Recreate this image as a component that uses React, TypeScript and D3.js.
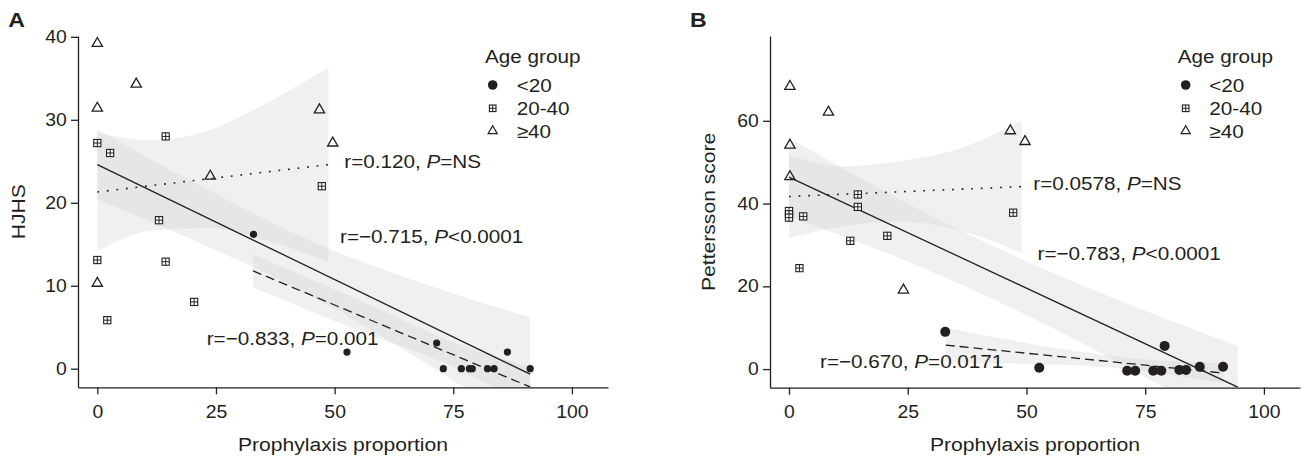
import React, { useEffect, useRef } from 'react';
import * as d3 from 'd3';

const INK = '#231f20';
const FONT = '"Liberation Sans", Arial, Helvetica, sans-serif';
const SX = 1.1; // the glyphs in the figure are a bit wider than Arial

// shared
const xTicks = [0, 25, 50, 75, 100];
const groups = ['<20', '20-40', '\u226540'];

// panel A - HJHS
const aYTicks = [0, 10, 20, 30, 40];
const aUnder20 = [[32.9, 16.2], [52.6, 2.0], [71.5, 3.1], [72.9, 0], [76.7, 0], [78.4, 0], [79.0, 0], [82.2, 0], [83.6, 0], [86.4, 2.0], [91.2, 0]];
const a20to40 = [[0, 27.2], [2.7, 26.0], [14.4, 28.0], [47.3, 22.0], [13.0, 17.9], [0, 13.1], [14.4, 12.9], [20.4, 8.05], [2.1, 5.85]];
const aOver40 = [[0, 39.2], [0, 31.4], [0, 10.3], [8.2, 34.3], [23.8, 23.2], [46.8, 31.2], [49.6, 27.2]];
const aFitAll = [[0, 24.6], [91.2, -0.66]];
const aFitOver40 = [[0, 21.3], [48.7, 24.6]];
const aFitUnder20 = [[32.8, 11.8], [91.2, -2.2]];
// confidence bands: [x, lower, upper]
const aBandAll = [[0, 20.4, 28.8], [20, 15.56, 22.56], [45, 8.8, 15.4], [70, 0.4, 10.0], [91.2, -7.6, 6.2]];
const aBandOver40 = [[0, 14.15, 28.45], [12, 16.7, 27.5], [24, 16.95, 28.85], [36, 15.4, 32.1], [48.7, 12.9, 36.3]];
const aBandUnder20 = [[32.8, 9.8, 13.8], [55, 4.6, 8.3], [75, 0.2, 3.2], [91.2, -4.6, 0.2]];

// panel B - Pettersson score
const bYTicks = [0, 20, 40, 60];
const bUnder20 = [[32.9, 9.0], [52.7, 0.3], [71.2, -0.4], [72.9, -0.4], [76.7, -0.4], [78.4, -0.4], [79.1, 5.6], [82.2, -0.2], [83.6, -0.2], [86.5, 0.55], [91.4, 0.55]];
const b20to40 = [[0, 38.2], [0, 37.4], [0, 36.6], [3.0, 36.9], [14.5, 42.2], [14.5, 39.2], [47.2, 37.8], [12.9, 31.0], [20.7, 32.2], [2.2, 24.4]];
const bOver40 = [[0.2, 68.3], [0.2, 54.1], [0.2, 46.5], [8.3, 62.1], [46.6, 57.6], [49.7, 55.0], [24.1, 19.1]];
const bFitAll = [[0, 46.4], [94.5, -4.35]];
const bFitOver40 = [[0, 41.7], [49, 44.1]];
const bFitUnder20 = [[33.0, 5.8], [91.4, -0.95]];
const bBandAll = [[0, 36.9, 55.9], [25, 25.98, 39.98], [50, 13.05, 26.05], [75, -1.9, 14.1], [94.5, -14.35, 5.65]];
const bBandOver40 = [[0, 31.7, 51.7], [12, 34.6, 49.0], [24, 35.6, 50.4], [36, 33.5, 53.3], [49, 28.1, 60.1]];
const bBandUnder20 = [[33, 1.6, 10.0], [59, 1.0, 4.6], [75, -0.5, 2.3], [91.4, -3.5, 1.5]];

const panels = [
  {
    id: 'A', left: 78, right: 608, top: 36, bottom: 387.3,
    xDomain: [-4.07, 107.6], yDomain: [-2.24, 40.1], yTicks: aYTicks,
    yTitle: 'HJHS', yTitleX: 25, labelX: 8.3,
    dotR: 3.6,
    under20: aUnder20, mid: a20to40, over40: aOver40,
    fitAll: aFitAll, fitOver40: aFitOver40, fitUnder20: aFitUnder20,
    bands: [aBandOver40, aBandAll, aBandUnder20],
    legend: { titleX: 485, symX: 492.7, textX: 516.7 },
    notes: [
      { x: 344.3, y: 168.3, r: '0.120', p: '=NS' },
      { x: 340, y: 242.7, r: '\u22120.715', p: '<0.0001' },
      { x: 206.7, y: 345, r: '\u22120.833', p: '=0.001' },
    ],
  },
  {
    id: 'B', left: 770, right: 1300, top: 36, bottom: 387.7,
    xDomain: [-4.0, 107.6], yDomain: [-4.5, 80.5], yTicks: bYTicks,
    yTitle: 'Pettersson score', yTitleX: 715, labelX: 690,
    dotR: 5,
    under20: bUnder20, mid: b20to40, over40: bOver40,
    fitAll: bFitAll, fitOver40: bFitOver40, fitUnder20: bFitUnder20,
    bands: [bBandOver40, bBandAll, bBandUnder20],
    legend: { titleX: 1177.7, symX: 1185.7, textX: 1209.3 },
    notes: [
      { x: 1033.3, y: 190, r: '0.0578', p: '=NS' },
      { x: 1037.5, y: 259.5, r: '\u22120.783', p: '<0.0001' },
      { x: 820, y: 368.3, r: '\u22120.670', p: '=0.0171' },
    ],
  },
];

const tri = d3.symbol(d3.symbolTriangle, 46)();
const triSmall = d3.symbol(d3.symbolTriangle, 36)();

const Square = ({ cx, cy, s }) => (
  <g transform={`translate(${cx},${cy})`}>
    <rect x={-s / 2} y={-s / 2} width={s} height={s} fill="#fff" stroke={INK} strokeWidth={1.1} />
    <line x1={-s / 2} x2={s / 2} y1={0} y2={0} stroke={INK} strokeWidth={1} />
    <line x1={0} x2={0} y1={-s / 2} y2={s / 2} stroke={INK} strokeWidth={1} />
  </g>
);

const Panel = ({ p }) => {
  const xAxisRef = useRef(null);
  const yAxisRef = useRef(null);

  const x = d3.scaleLinear().domain(p.xDomain).range([p.left, p.right]);
  const y = d3.scaleLinear().domain(p.yDomain).range([p.bottom, p.top]);

  useEffect(() => {
    const gx = d3.select(xAxisRef.current);
    gx.selectAll('*').remove();
    gx.call(d3.axisBottom(x).tickValues(xTicks).tickSize(7).tickSizeOuter(0).tickPadding(11));
    const gy = d3.select(yAxisRef.current);
    gy.selectAll('*').remove();
    gy.call(d3.axisLeft(y).tickValues(p.yTicks).tickSize(7).tickSizeOuter(0).tickPadding(3.3));

    [gx, gy].forEach(g => {
      g.attr('font-size', null).attr('font-family', null);
      g.select('.domain').attr('stroke', INK).attr('stroke-width', 1.3);
      g.selectAll('.tick line').attr('stroke', INK).attr('stroke-width', 1.3);
      g.selectAll('.tick text')
        .attr('fill', INK)
        .style('font-family', FONT)
        .style('font-size', '17.6px')
        .attr('transform', `scale(${SX},1)`);
    });
  }, []);

  const area = d3.area()
    .x(d => x(d[0]))
    .y0(d => y(d[1]))
    .y1(d => y(d[2]))
    .curve(d3.curveMonotoneX);
  const line = d3.line().x(d => x(d[0])).y(d => y(d[1]));

  const legendY = [85, 108.3, 131];
  const midY = (p.top + p.bottom) / 2;

  return (
    <g>
      <defs>
        <clipPath id={`clip-${p.id}`}>
          <rect x={p.left} y={p.top} width={p.right - p.left} height={p.bottom - p.top} />
        </clipPath>
      </defs>
      <g clipPath={`url(#clip-${p.id})`}>
        {p.bands.map((b, i) => (
          <path key={i} d={area(b)} fill="#d6d6d6" fillOpacity={0.36} />
        ))}
        <path d={line(p.fitAll)} fill="none" stroke={INK} strokeWidth={1.3} />
        <path d={line(p.fitOver40)} fill="none" stroke={INK} strokeWidth={1.6} strokeDasharray="1.8 7.8" />
        <path d={line(p.fitUnder20)} fill="none" stroke={INK} strokeWidth={1.3} strokeDasharray="9 5" />
      </g>

      {p.mid.map((d, i) => <Square key={'s' + i} cx={x(d[0])} cy={y(d[1])} s={7.2} />)}
      {p.over40.map((d, i) => (
        <path key={'t' + i} d={tri} transform={`translate(${x(d[0])},${y(d[1])})`} fill="none" stroke={INK} strokeWidth={1.3} />
      ))}
      {p.under20.map((d, i) => (
        <circle key={'c' + i} cx={x(d[0])} cy={y(d[1])} r={p.dotR} fill={INK} />
      ))}

      <g ref={xAxisRef} transform={`translate(0,${p.bottom})`} />
      <g ref={yAxisRef} transform={`translate(${p.left},0)`} />

      <g fontFamily={FONT} fill={INK}>
        <text transform={`translate(${p.labelX},26.8) scale(${SX},1)`} fontSize={21} fontWeight="bold">{p.id}</text>
        <text transform={`translate(${(p.left + p.right) / 2},451) scale(${SX},1)`} fontSize={19.2} textAnchor="middle">
          Prophylaxis proportion
        </text>
        <text transform={`translate(${p.yTitleX},${midY}) rotate(-90) scale(${SX},1)`} fontSize={19.2} textAnchor="middle">
          {p.yTitle}
        </text>

        <text transform={`translate(${p.legend.titleX},63.3) scale(${SX},1)`} fontSize={18.8}>Age group</text>
        <circle cx={p.legend.symX} cy={legendY[0]} r={4.8} fill={INK} />
        <Square cx={p.legend.symX} cy={legendY[1]} s={6.6} />
        <path d={triSmall} transform={`translate(${p.legend.symX},${legendY[2]})`} fill="none" stroke={INK} strokeWidth={1.2} />
        {groups.map((g, i) => (
          <text key={g} transform={`translate(${p.legend.textX},${legendY[i]}) scale(${SX},1)`} fontSize={18.8} dy="0.35em">{g}</text>
        ))}

        {p.notes.map((n, i) => (
          <text key={i} transform={`translate(${n.x},${n.y}) scale(${SX},1)`} fontSize={18.8}>
            r={n.r}, <tspan fontStyle="italic">P</tspan>{n.p}
          </text>
        ))}
      </g>
    </g>
  );
};

export default function App() {
  return (
    <svg width={1306} height={459} viewBox="0 0 1306 459"
      style={{ position: 'absolute', left: 0, top: 0, background: '#fff' }}>
      <rect width={1306} height={459} fill="#fff" />
      {panels.map(p => <Panel key={p.id} p={p} />)}
    </svg>
  );
}
